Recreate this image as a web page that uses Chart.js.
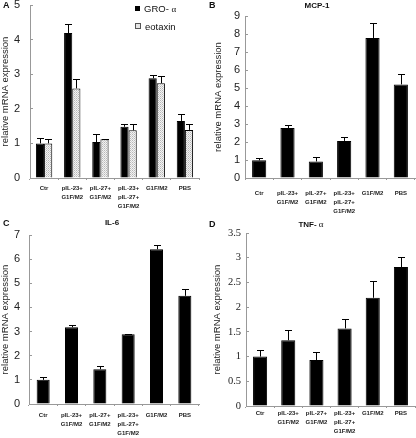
<!DOCTYPE html>
<html lang="en">
<head>
<meta charset="UTF-8">
<title>relative mRNA expression</title>
<script src="https://cdn.jsdelivr.net/npm/chart.js"></script>
<style>
  body { margin: 0; background: #fff; font-family: Arial, "Liberation Sans", sans-serif; }
  #wrap { position: relative; width: 416px; height: 438px; overflow: hidden; }
  canvas { position: absolute; }
  .letter { position: absolute; font-weight: bold; font-size: 9px; color: #111; line-height: 10px; }
  .ttl { position: absolute; font-weight: bold; font-size: 8px; color: #111; line-height: 10px; transform: translateX(-50%); white-space: nowrap; }
  .greek { font-family: "Liberation Serif", serif; font-weight: normal; font-size: 9px; }
  .leg { position: absolute; left: 135px; font-size: 9.5px; color: #111; line-height: 11px; white-space: nowrap; }
  .leg i { display: inline-block; width: 5px; height: 5px; margin-right: 4px; vertical-align: 1px; }
</style>
</head>
<body>
<div id="wrap">
  <canvas id="chartA" width="208" height="219" style="left:0;top:0"></canvas>
  <canvas id="chartB" width="210" height="219" style="left:206px;top:0"></canvas>
  <canvas id="chartC" width="208" height="220" style="left:0;top:218px"></canvas>
  <canvas id="chartD" width="210" height="220" style="left:206px;top:218px"></canvas>

  <div class="letter" style="left:3px;top:0">A</div>
  <div class="letter" style="left:209px;top:0">B</div>
  <div class="letter" style="left:3px;top:218px">C</div>
  <div class="letter" style="left:209px;top:219px">D</div>

  <div class="ttl" style="left:317px;top:1px">MCP-1</div>
  <div class="ttl" style="left:112px;top:218px">IL-6</div>
  <div class="ttl" style="left:311px;top:219px">TNF- <span class="greek">α</span></div>

  <div class="leg" style="top:3px"><i style="background:#000"></i>GRO- <span class="greek">α</span></div>
  <div class="leg" style="top:21px"><i style="background:#e6e6e6;border:1px solid #555;width:4px;height:4px"></i>eotaxin</div>
</div>

<script>
  // categories
  const groups = ['Ctr', ['pIL-23+', 'G1F/M2'], ['pIL-27+', 'G1F/M2'], ['pIL-23+', 'pIL-27+', 'G1F/M2'], 'G1F/M2', 'PBS'];

  // A: GRO-alpha and eotaxin
  const groAlpha = [1.0, 4.19, 1.04, 1.48, 2.88, 1.65];
  const groAlphaErr = [0.16, 0.26, 0.24, 0.08, 0.10, 0.20];
  const eotaxin = [1.0, 2.59, 1.12, 1.38, 2.74, 1.39];
  const eotaxinErr = [0.12, 0.26, 0.02, 0.19, 0.21, 0.18];

  // B: MCP-1
  const mcp1 = [0.98, 2.78, 0.92, 2.06, 7.78, 5.2];
  const mcp1Err = [0.15, 0.17, 0.22, 0.21, 0.82, 0.6];

  // C: IL-6
  const il6 = [1.0, 3.18, 1.44, 2.89, 6.41, 4.48];
  const il6Err = [0.13, 0.08, 0.15, 0.02, 0.18, 0.27];

  // D: TNF-alpha
  const tnfAlpha = [1.0, 1.33, 0.93, 1.57, 2.19, 2.81];
  const tnfAlphaErr = [0.14, 0.2, 0.17, 0.19, 0.34, 0.2];

  // dotted light grey fill for eotaxin bars
  function dots() {
    const c = document.createElement('canvas');
    c.width = 2; c.height = 2;
    const g = c.getContext('2d');
    g.fillStyle = '#f2f2f2'; g.fillRect(0, 0, 2, 2);
    g.fillStyle = '#b8b8b8'; g.fillRect(0, 0, 1, 1);
    g.fillStyle = '#d0d0d0'; g.fillRect(1, 1, 1, 1);
    return g.createPattern(c, 'repeat');
  }

  // error bars, upward only
  const errorBars = {
    id: 'errorBars',
    afterDatasetsDraw(chart) {
      const ctx = chart.ctx, y = chart.scales.y;
      chart.data.datasets.forEach((ds, i) => {
        chart.getDatasetMeta(i).data.forEach((bar, j) => {
          const top = Math.round(y.getPixelForValue(ds.data[j] + ds.errors[j])) + 0.5;
          const x = Math.round(bar.x) + 0.5;
          ctx.save();
          ctx.strokeStyle = '#000';
          ctx.lineWidth = 1;
          ctx.beginPath();
          ctx.moveTo(x, bar.y);
          ctx.lineTo(x, top);
          ctx.moveTo(x - 3.5, top);
          ctx.lineTo(x + 3.5, top);
          ctx.stroke();
          ctx.restore();
        });
      });
    }
  };

  function panel(id, datasets, o) {
    const tickFont = o.serif
      ? { family: '"Liberation Serif", "Times New Roman", serif', size: 10.5 }
      : { family: 'Arial, "Liberation Sans", sans-serif', size: 11 };
    return new Chart(document.getElementById(id), {
      type: 'bar',
      data: { labels: groups, datasets: datasets },
      options: {
        responsive: false,
        devicePixelRatio: 1,
        animation: false,
        layout: { padding: { top: o.top, right: o.right, left: 0, bottom: 0 } },
        plugins: { legend: { display: false }, tooltip: { enabled: false } },
        datasets: { bar: { barPercentage: o.barPct, categoryPercentage: o.catPct } },
        scales: {
          x: {
            grid: { display: true, drawOnChartArea: false, tickLength: 2, color: '#999' },
            border: { color: '#999' },
            ticks: {
              color: '#222', maxRotation: 0, autoSkip: false, padding: o.xPad,
              font: { family: 'Arial, "Liberation Sans", sans-serif', size: 6, weight: 'bold', lineHeight: 1.5 }
            },
            afterFit(s) { s.height = o.xh; s.paddingLeft = 0; s.paddingRight = 0; }
          },
          y: {
            min: 0, max: o.max,
            grid: { display: true, drawOnChartArea: false, tickLength: -3, color: '#999' },
            border: { color: '#999' },
            ticks: { stepSize: o.step, color: '#222', padding: o.yPad, font: tickFont, callback: v => String(v) },
            title: {
              display: true, text: 'relative mRNA expression', color: '#222',
              font: { family: 'Arial, "Liberation Sans", sans-serif', size: 9.5 },
              padding: { top: o.tPad, bottom: 0 }
            },
            afterFit(s) { s.width = o.yw; s.paddingTop = 0; s.paddingBottom = 0; }
          }
        }
      },
      plugins: [errorBars]
    });
  }

  const black = (label, data, errors) => ({
    label: label, data: data, errors: errors,
    backgroundColor: '#000', borderColor: '#000', borderWidth: 1
  });

  panel('chartA', [
    black('GRO- α', groAlpha, groAlphaErr),
    { label: 'eotaxin', data: eotaxin, errors: eotaxinErr, backgroundColor: dots(), borderColor: '#000', borderWidth: 1 }
  ], { max: 5, step: 1, top: 5, right: 9, yw: 30, xh: 41, xPad: 4, yPad: 13, tPad: 0, barPct: 1, catPct: 0.58 });

  panel('chartB', [black('MCP-1', mcp1, mcp1Err)],
    { max: 9, step: 1, top: 16, right: 1, yw: 39, xh: 41, xPad: 9, yPad: 8, tPad: 7, barPct: 0.5, catPct: 1 });

  panel('chartC', [black('IL-6', il6, il6Err)],
    { max: 7, step: 1, top: 17, right: 9, yw: 29, xh: 34, xPad: 5, yPad: 12, tPad: 0, barPct: 0.46, catPct: 1 });

  panel('chartD', [black('TNF- α', tnfAlpha, tnfAlphaErr)],
    { max: 3.5, step: 0.5, top: 15, right: 1, yw: 40, xh: 32, xPad: 1, yPad: 8, tPad: 6, barPct: 0.5, catPct: 1, serif: true });
</script>
</body>
</html>
